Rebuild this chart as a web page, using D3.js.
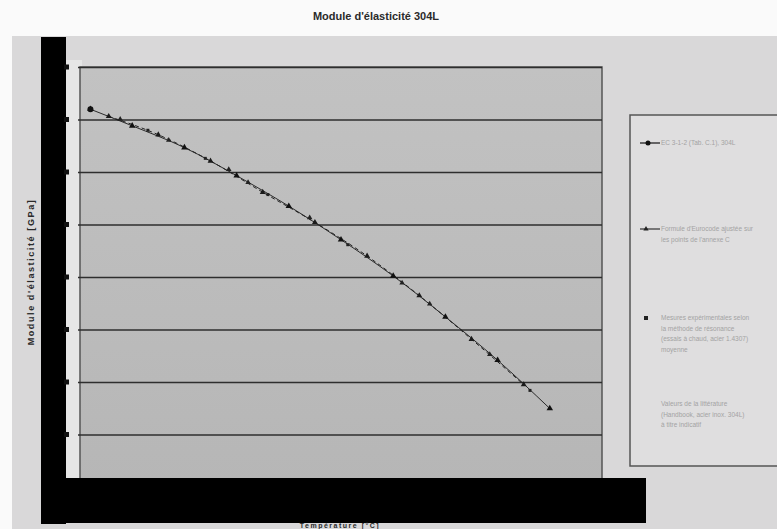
<!DOCTYPE html>
<html><head><meta charset="utf-8">
<script src="https://cdn.jsdelivr.net/npm/d3@7"></script>
<style>body{margin:0;background:#fafafa}svg{display:block}</style>
</head><body>
<svg id="c" width="777" height="529"></svg>
<script>
// ---- data ----
const title = "Module d'élasticité 304L";
const yTitle = "Module d'élasticité [GPa]";
const xTitle = "Température [°C]";
const yTicks = [60, 80, 100, 120, 140, 160, 180, 200, 220];
const xDomain = [0, 1000];
// Series A: EC3 table values (line + diamond markers)
const tempA = [20, 100, 200, 300, 400, 500, 600, 700, 800, 900];
const valA  = [203.9, 197.6, 189.3, 178.6, 167.0, 154.2, 140.4, 124.8, 108.3, 89.9];
// Series B: fitted formula (line + small triangles)
const tempB = [55, 150, 250, 350, 450, 550, 650, 750, 850];
const valB  = [201.2, 194.2, 184.2, 172.3, 160.8, 148.0, 132.9, 116.3, 99.0];
// Series C: measured points (markers only)
const tempC = [77, 170, 285, 322, 440, 617, 670, 785];
const valC  = [200.1, 192.1, 181.0, 176.0, 162.6, 137.7, 129.7, 110.5];
// Series D: other reference (markers only)
const tempD = [130, 240, 360, 513, 862];
const valD  = [195.9, 185.2, 171.4, 152.3, 96.8];
const legendLabels = [
  ["EC 3-1-2 (Tab. C.1), 304L"],
  ["Formule d'Eurocode ajustée sur", "les points de l'annexe C"],
  ["Mesures expérimentales selon", "la méthode de résonance", "(essais à chaud, acier 1.4307)", "moyenne"],
  ["Valeurs de la littérature", "(Handbook, acier inox. 304L)", "à titre indicatif"]
];

// ---- drawing ----
const svg = d3.select("#c");
svg.append("rect").attr("x",12).attr("y",36).attr("width",765).attr("height",493).attr("fill","#d9d8d9");
svg.append("rect").attr("x",66).attr("y",60).attr("width",16).attr("height",420).attr("fill","#e6e6e6");

const x = d3.scaleLinear().domain(xDomain).range([80, 602]);
const y = d3.scaleLinear().domain([yTicks[0], yTicks[yTicks.length-1]]).range([487, 67]);

const defs = svg.append("defs");
const gr = defs.append("linearGradient").attr("id","pg").attr("x1",0).attr("y1",0).attr("x2",0).attr("y2",1);
gr.append("stop").attr("offset","0%").attr("stop-color","#c2c2c2");
gr.append("stop").attr("offset","100%").attr("stop-color","#b6b6b6");

svg.append("rect").attr("x",80).attr("y",67).attr("width",522).attr("height",420)
  .attr("fill","url(#pg)").attr("stroke","#555").attr("stroke-width",1.5);

const grid = svg.append("g").attr("transform","translate(80,0)")
  .call(d3.axisLeft(y).tickValues(yTicks.slice(1)).tickSize(-522).tickFormat(""));
grid.select(".domain").remove();
grid.selectAll(".tick line").attr("stroke","#2e2e2e").attr("stroke-width",1.6).attr("x1",-2);

svg.append("text").attr("x",376).attr("y",20).attr("text-anchor","middle")
  .attr("font-family","Liberation Sans, Arial, sans-serif").attr("font-size",11).attr("font-weight","bold")
  .attr("fill","#2a2a2a").text(title);

const line = d3.line().x(d=>x(d[0])).y(d=>y(d[1])).curve(d3.curveMonotoneX);
const dA = tempA.map((t,i)=>[t,valA[i]]);
const dB = tempB.map((t,i)=>[t,valB[i]]);
const dC = tempC.map((t,i)=>[t,valC[i]]);
const dD = tempD.map((t,i)=>[t,valD[i]]);
svg.append("path").datum(dA).attr("d",line).attr("fill","none").attr("stroke","#1a1a1a").attr("stroke-width",0.9);
svg.append("path").datum(dB).attr("d",line).attr("fill","none").attr("stroke","#222").attr("stroke-width",1).attr("stroke-dasharray","4,3");

const sym = (type,size)=>d3.symbol().type(type).size(size);
svg.append("g").selectAll("path").data(dA).join("path")
  .attr("transform",d=>`translate(${x(d[0])},${y(d[1])})`).attr("d",sym(d3.symbolTriangle,18)).attr("fill","#111");
svg.append("g").selectAll("path").data(dB).join("path")
  .attr("transform",d=>`translate(${x(d[0])},${y(d[1])})`).attr("d",sym(d3.symbolTriangle,15)).attr("fill","#1a1a1a");
svg.append("g").selectAll("path").data(dC).join("path")
  .attr("transform",d=>`translate(${x(d[0])},${y(d[1])})`).attr("d",sym(d3.symbolTriangle,13)).attr("fill","#222");
svg.append("g").selectAll("path").data(dD).join("path")
  .attr("transform",d=>`translate(${x(d[0])},${y(d[1])})`).attr("d",sym(d3.symbolSquare,9)).attr("fill","#222");
// first point is a bigger dot
svg.append("circle").datum(dA[0]).attr("cx",d=>x(d[0])).attr("cy",d=>y(d[1])).attr("r",3).attr("fill","#111");

// black bars (redacted axes)
svg.append("rect").attr("x",41).attr("y",37).attr("width",25).attr("height",487).attr("fill","#000");
svg.append("rect").attr("x",43).attr("y",478).attr("width",603).attr("height",45).attr("fill","#000");
svg.append("g").selectAll("rect").data(yTicks.slice(1)).join("rect")
  .attr("x",64).attr("y",d=>y(d)-2.5).attr("width",5).attr("height",5).attr("fill","#111");

svg.append("text").attr("transform","translate(34,272) rotate(-90)").attr("text-anchor","middle")
  .attr("font-family","Liberation Sans, Arial, sans-serif").attr("font-size",9).attr("font-weight","bold")
  .attr("letter-spacing",1.6).attr("fill","#2a2a2a").text(yTitle);
svg.append("text").attr("x",340).attr("y",528).attr("text-anchor","middle")
  .attr("font-family","Liberation Sans, Arial, sans-serif").attr("font-size",7).attr("font-weight","bold")
  .attr("letter-spacing",1.5).attr("fill","#2a2a2a").text(xTitle);

svg.append("rect").attr("x",630).attr("y",115).attr("width",160).attr("height",351)
  .attr("fill","#dfdedf").attr("stroke","#555").attr("stroke-width",1.5);
const legY = [143, 229, 318, 404];
const lg = svg.append("g").attr("font-family","Liberation Sans, Arial, sans-serif").attr("font-size",6.5).attr("fill","#a3a3a3");
legendLabels.forEach((lines,i)=>{
  const yy = legY[i];
  if(i===0){
    lg.append("line").attr("x1",640).attr("x2",660).attr("y1",yy).attr("y2",yy).attr("stroke","#222").attr("stroke-width",1.3);
    lg.append("circle").attr("cx",648).attr("cy",yy).attr("r",2.5).attr("fill","#111");
  } else if(i===1){
    lg.append("line").attr("x1",640).attr("x2",660).attr("y1",yy).attr("y2",yy).attr("stroke","#222").attr("stroke-width",1.1);
    lg.append("path").attr("transform",`translate(646,${yy})`).attr("d",sym(d3.symbolTriangle,12)).attr("fill","#222");
  } else if(i===2){
    lg.append("path").attr("transform",`translate(646,${yy})`).attr("d",sym(d3.symbolSquare,16)).attr("fill","#222");
  }
  lines.forEach((t,j)=>{
    lg.append("text").attr("x",661).attr("y",yy+2+j*10.5).text(t);
  });
});
</script>
</body></html>
